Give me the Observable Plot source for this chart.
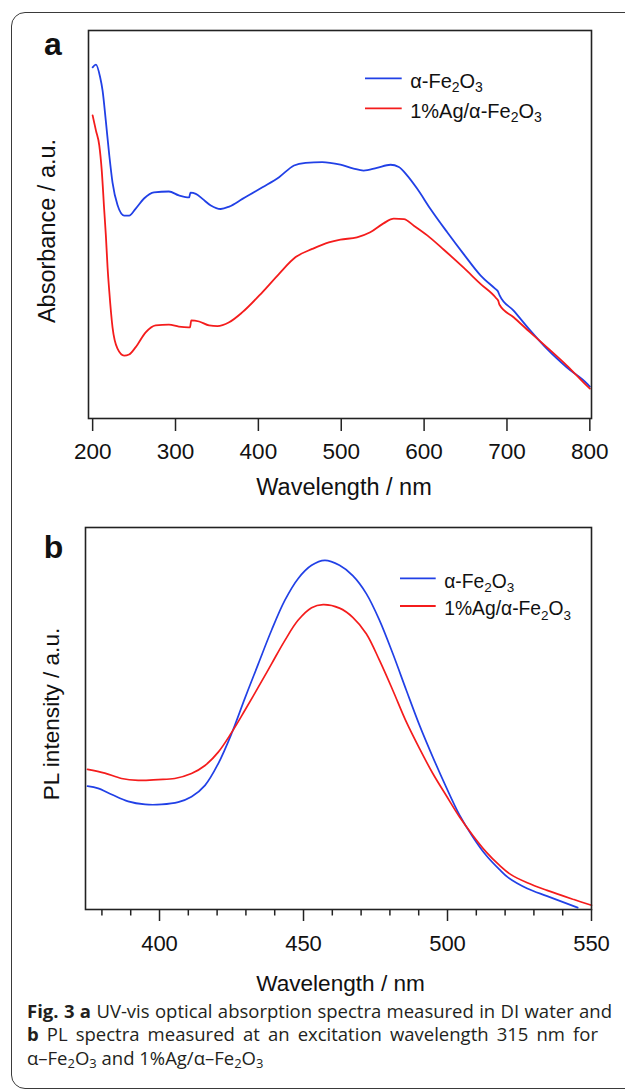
<!DOCTYPE html>
<html>
<head>
<meta charset="utf-8">
<script src="https://cdn.jsdelivr.net/npm/d3@7"></script>
<script src="https://cdn.jsdelivr.net/npm/@observablehq/plot@0.6"></script>
<style>
  html, body { margin: 0; padding: 0; background: #fff; width: 625px; height: 1090px; overflow: hidden; }
  #a { position: absolute; left: 0; top: 0; }
  #b { position: absolute; left: 0; top: 510px; }
  #legend { position: absolute; left: 0; top: 0; pointer-events: none; }
  #border { position: absolute; left: 11px; top: 12px; width: 660px; height: 1077px; border: 1.5px solid #3a3a3a; border-radius: 14px; box-sizing: border-box; pointer-events: none; }
  #caption { position: absolute; left: 27px; top: 999px; width: 585px; font-family: "Open Sans", "Noto Sans", sans-serif; font-size: 18.5px; line-height: 23.4px; color: #231f20; }
  #caption .j2 { text-align: justify; text-align-last: justify; width: 571px; }
  #caption sub { font-size: 0.7em; vertical-align: -0.25em; line-height: 0; }
</style>
</head>
<body>
<div id="a"></div>
<div id="b"></div>
<svg id="legend" width="625" height="1090"></svg>
<div id="caption">
  <div class="j2" style="width:585px"><b>Fig. 3 a</b> UV-vis optical absorption spectra measured in DI water and</div>
  <div class="j2"><b>b</b> PL spectra measured at an excitation wavelength 315 nm for</div>
  <div>α–Fe<sub>2</sub>O<sub>3</sub> and 1%Ag/α–Fe<sub>2</sub>O<sub>3</sub></div>
</div>
<div id="border"></div>
<script>
// ---------- Panel a: UV-vis absorption ----------
const absWlBlue = [200,204,209,212,216,220,224,230,238,244,252,262,274,292,304,314,316.5,318,324.5,332.6,342.6,354.6,364.7,380.8,404.9,425,443,457,477,499,515,527,543,559.5,569.5,579.7,591.7,607.7,627.9,648,668,686,689,691,708,728,748,772,797.5,800];
const absValBlue = [0.905,0.912,0.880,0.845,0.765,0.680,0.608,0.550,0.523,0.523,0.541,0.567,0.583,0.585,0.575,0.570,0.570,0.582,0.579,0.566,0.549,0.540,0.546,0.566,0.596,0.622,0.652,0.659,0.661,0.654,0.644,0.639,0.646,0.654,0.648,0.626,0.592,0.540,0.480,0.423,0.369,0.334,0.328,0.318,0.278,0.227,0.180,0.132,0.088,0.082];

const absWlRed = [200,204,208,211,214,216,218,220,224,230,238,244,252,264,276,292,304,315.7,317.5,319,328.5,340.5,350.6,364.7,380.8,405,425,445,465,485,499,519,535,551,563.5,575.6,587.6,603.8,623.8,648,668,687,689.5,691,708,728,748,772,797.5,800];
const absValRed = [0.781,0.742,0.704,0.639,0.536,0.470,0.390,0.330,0.235,0.180,0.162,0.165,0.184,0.222,0.240,0.242,0.237,0.235,0.235,0.253,0.250,0.240,0.238,0.248,0.274,0.326,0.373,0.416,0.437,0.454,0.461,0.467,0.480,0.503,0.515,0.514,0.497,0.472,0.435,0.388,0.347,0.310,0.303,0.293,0.261,0.222,0.184,0.137,0.082,0.077];

const ticksA = [200, 300, 400, 500, 600, 700, 800];

// ---------- Panel b: PL spectra ----------
const plWlBlue = [375,378.7,383.4,389.1,395,400.7,406.5,411.1,415.8,420.4,425,429.6,434.3,438.9,443.5,448.1,452.8,457.4,462.5,467.1,471.8,476.4,481,485.7,490.3,494.9,499.5,504.2,508.8,513.4,518,521,527.7,534.6,545.2];
const plValBlue = [0.323,0.317,0.301,0.283,0.275,0.275,0.281,0.295,0.325,0.382,0.460,0.552,0.643,0.731,0.809,0.866,0.901,0.914,0.901,0.874,0.827,0.757,0.670,0.574,0.482,0.399,0.321,0.247,0.190,0.142,0.105,0.084,0.055,0.035,0.005];

const plWlRed = [375,381,386.8,392.6,399.5,405.3,411.1,415.8,420.4,425,429.6,434.3,438.9,443.5,448.1,452.8,456.8,462.5,467.1,471.8,476.4,481,485.7,490.3,494.9,499.5,504.2,508.8,513.4,518,521.9,527.7,534.6,543.9,550];
const plValRed = [0.367,0.357,0.343,0.338,0.340,0.343,0.356,0.377,0.412,0.463,0.521,0.582,0.643,0.704,0.757,0.790,0.798,0.789,0.765,0.722,0.652,0.574,0.491,0.421,0.356,0.299,0.242,0.194,0.151,0.116,0.092,0.070,0.050,0.026,0.011];

const ticksB = [400, 450, 500, 550];
const minorTicksB = [380,390,410,420,430,440,460,470,480,490,510,520,530,540];

const seriesNames = ["α-Fe2O3", "1%Ag/α-Fe2O3"];
const colors = ["#2140e6", "#f41c1c"];

const zip = (w, v) => w.map((x, i) => ({w: x, v: v[i]}));
const font = "'Liberation Sans', Arial, Helvetica, sans-serif";

const label = (t, o) => Plot.text([t], {text: d => d, textAnchor: "middle", lineAnchor: "middle", fill: "#111", ...o});

const chartA = Plot.plot({
  width: 625, height: 510,
  marginLeft: 88, marginRight: 34, marginTop: 30, marginBottom: 92,
  x: {domain: [195, 802], label: null},
  y: {domain: [0, 1], axis: null, label: null},
  style: {fontFamily: font, fontSize: "22.5px", color: "#111", background: "none"},
  marks: [
    Plot.line(zip(absWlBlue, absValBlue), {x: "w", y: "v", stroke: colors[0], strokeWidth: 1.8, curve: "monotone-x"}),
    Plot.line(zip(absWlRed, absValRed), {x: "w", y: "v", stroke: colors[1], strokeWidth: 1.8, curve: "monotone-x"}),
    Plot.frame({stroke: "#222", strokeWidth: 1.6}),
    Plot.axisX({ticks: ticksA, tickSize: 13, tickPadding: 12, label: null, stroke: "#222", strokeWidth: 1.5}),
    label("Wavelength / nm", {frameAnchor: "bottom", dy: 69, dx: 4, fontSize: 23.5}),
    label("Absorbance / a.u.", {frameAnchor: "left", rotate: -90, dx: -41, dy: 6.5, fontSize: 23.5}),
    label("a", {frameAnchor: "top-left", dx: -35.5, dy: 14, fontSize: 32, fontWeight: "bold"})
  ]
});
document.getElementById("a").append(chartA);

const chartB = Plot.plot({
  width: 625, height: 490,
  marginLeft: 85, marginRight: 34, marginTop: 17, marginBottom: 91,
  x: {domain: [374.3, 550], label: null},
  y: {domain: [0, 1], axis: null, label: null},
  style: {fontFamily: font, fontSize: "22px", color: "#111", background: "none"},
  marks: [
    Plot.line(zip(plWlBlue, plValBlue), {x: "w", y: "v", stroke: colors[0], strokeWidth: 1.7, curve: "catmull-rom"}),
    Plot.line(zip(plWlRed, plValRed), {x: "w", y: "v", stroke: colors[1], strokeWidth: 1.7, curve: "catmull-rom"}),
    Plot.frame({stroke: "#222", strokeWidth: 1.6}),
    Plot.axisX({ticks: minorTicksB, tickSize: 6.5, text: null, label: null, stroke: "#222", strokeWidth: 1.5}),
    Plot.axisX({ticks: ticksB, tickSize: 12, tickPadding: 14, label: null, stroke: "#222", strokeWidth: 1.5}),
    label("Wavelength / nm", {frameAnchor: "bottom", dy: 74, dx: 2, fontSize: 22.6}),
    label("PL intensity / a.u.", {frameAnchor: "left", rotate: -90, dx: -34, dy: -4.5, fontSize: 22.6}),
    label("b", {frameAnchor: "top-left", dx: -32, dy: 20, fontSize: 32, fontWeight: "bold"})
  ]
});
document.getElementById("b").append(chartB);

// ---------- Legends (with subscripts) ----------
const legendSvg = d3.select("#legend");
function legend(x0, x1, yTop, gap, fontSize) {
  seriesNames.forEach((name, i) => {
    const y = yTop + i * gap;
    legendSvg.append("line").attr("x1", x0).attr("x2", x1).attr("y1", y).attr("y2", y)
      .attr("stroke", colors[i]).attr("stroke-width", 1.8);
    const t = legendSvg.append("text").attr("x", x1 + 8.5).attr("y", y + 9.3)
      .attr("font-family", font).attr("font-size", fontSize).attr("fill", "#111");
    const sub = fontSize * 0.7, shift = fontSize * 0.22;
    // split "…Fe2O3" into pieces: text, subscript digit, text, subscript digit
    const m = name.match(/^(.*Fe)(\d)(O)(\d)$/);
    t.append("tspan").text(m[1]);
    t.append("tspan").attr("font-size", sub).attr("dy", shift).text(m[2]);
    t.append("tspan").attr("dy", -shift).text(m[3]);
    t.append("tspan").attr("font-size", sub).attr("dy", shift).text(m[4]);
  });
}
legend(365, 401.7, 78.3, 30, 20);
legend(400, 435.7, 578.3, 27.7, 19.3);
</script>
</body>
</html>
